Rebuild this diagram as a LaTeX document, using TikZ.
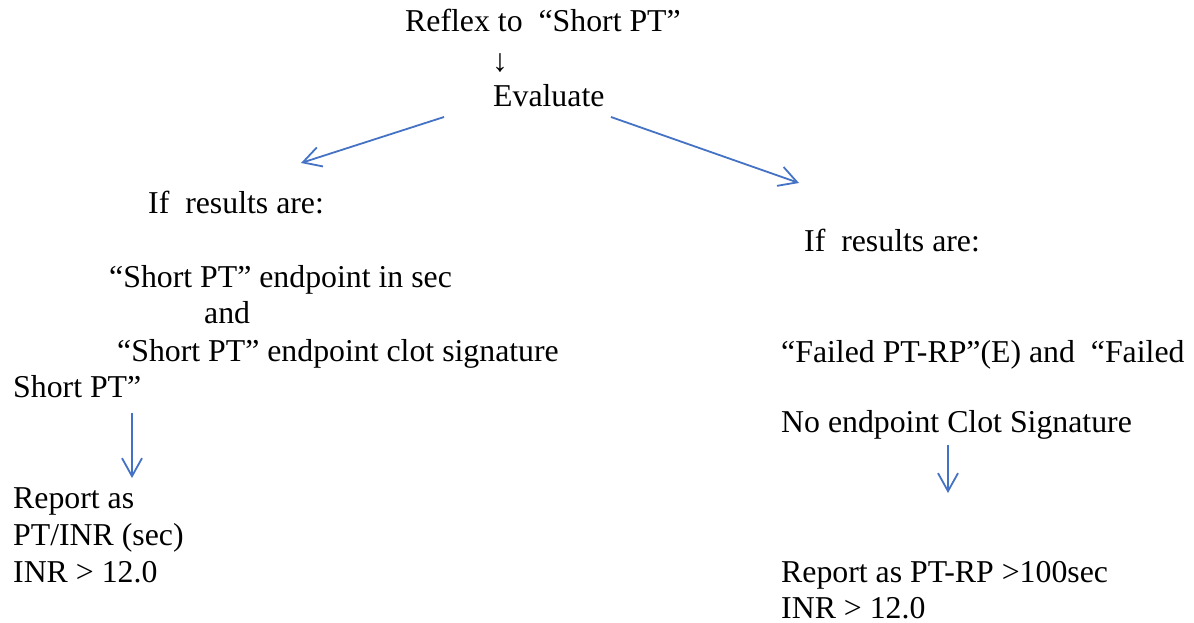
\documentclass[tikz,border=0pt]{standalone}
\usepackage{fontspec}
\setmainfont{Liberation Serif}
\usetikzlibrary{arrows.meta}
\definecolor{flowblue}{RGB}{68,114,196}
\begin{document}
\begin{tikzpicture}[x=1pt,y=-1pt,
    every node/.style={anchor=base west,inner sep=0pt,font=\fontsize{31.8}{36.5}\selectfont}]
      \useasboundingbox (0,0) rectangle (1194,623);
      \draw
        (405,32) node (reflex){Reflex to\ \ “Short PT”}
        (500,63) node[anchor=center] (down){↓}
        (493,106.6) node (eval){Evaluate}
        (148,213) node (ifl){If\ \ results are:}
        (109,287) node (secl){“Short PT” endpoint in sec}
        (204,323) node (andl){and}
        (117,361) node (clotl){“Short PT” endpoint clot signature}
        (13,397) node (shortl){Short PT”}
        (13,508) node (repl){Report as}
        (13,545) node (ptinr){PT/INR (sec)}
        (13,582) node (inrl){INR > 12.0}
        (804,251) node (ifr){If\ \ results are:}
        (781,362) node (failr){“Failed PT-RP”(E) and\ \ “Failed}
        (781,432) node (noclot){No endpoint Clot Signature}
        (781,582) node (repr){Report as PT-RP >100sec}
        (781,618) node (inrr){INR > 12.0};
      \coordinate (evall) at (444,117);
      \coordinate (evalr) at (611,117);
      \coordinate (ifltop) at (301,163);
      \coordinate (ifrtop) at (799,183);
      \coordinate (shortdn) at (132,413);
      \coordinate (reptop) at (132,478);
      \coordinate (noclotdn) at (948,445);
      \coordinate (reprtop) at (948,493);
      \begin{scope}[flowblue,line width=1.8pt,-{Straight Barb[length=18pt,width=20pt]}]
        \draw (evall) to (ifltop);
        \draw (evalr) to (ifrtop);
        \draw (shortdn) to (reptop);
        \draw (noclotdn) to (reprtop);
      \end{scope}
    \end{tikzpicture}
\end{document}
